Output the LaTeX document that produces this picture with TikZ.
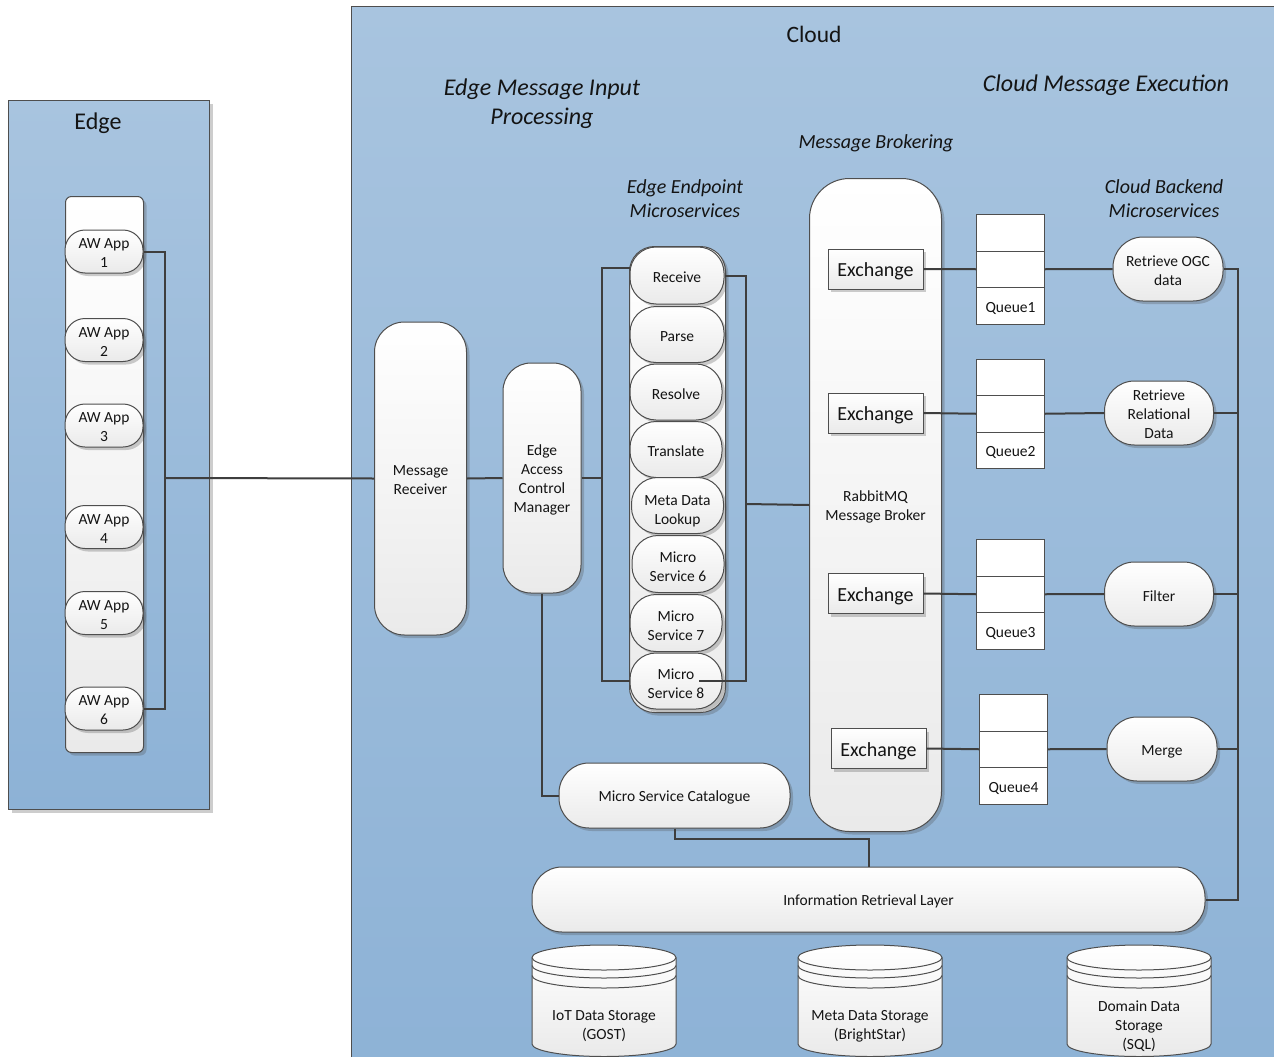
\documentclass[tikz,border=0pt]{standalone}
\usepackage{fontspec}
\setmainfont{Carlito}
\usetikzlibrary{shadows,calc}
\definecolor{panelTop}{RGB}{168,196,223}
\definecolor{panelBot}{RGB}{141,178,214}
\definecolor{nodeBot}{RGB}{234,234,234}
\definecolor{lineC}{RGB}{62,62,62}
\definecolor{borderC}{RGB}{78,78,78}
\newcommand{\fs}{\rule{0pt}{0.98em}}
\newcommand{\fsx}[1]{\rule{0pt}{#1em}}
\newcommand{\dbcyl}[4]{%
  \path[top color=white, bottom color=nodeBot, draw=borderC, line width=1pt]
    (#2,957.5) -- (#2,1044) arc[start angle=180,end angle=360,x radius=72pt,y radius=12.5pt]
    -- ++(0,-86.5) arc[start angle=0,end angle=180,x radius=72pt,y radius=12.5pt] -- cycle;
  \draw[draw=borderC, line width=1pt] (#2,957.5) arc[start angle=180,end angle=360,x radius=72pt,y radius=12.5pt];
  \draw[draw=borderC, line width=1pt] (#2,965.5) arc[start angle=180,end angle=360,x radius=72pt,y radius=12.5pt];
  \draw[draw=borderC, line width=1pt] (#2,975.5) arc[start angle=180,end angle=360,x radius=72pt,y radius=12.5pt];
  \node[align=center] (#1) at (#3,1023.5) {\fs #4};
}
\begin{document}
\begin{tikzpicture}[x=1pt,y=-1pt,
  every node/.style={font=\fontsize{15.5}{19}\selectfont, text=black!92, execute at begin node={\rule{0pt}{0.95em}}},
  panel/.style={draw=borderC, line width=1pt, top color=panelTop, bottom color=panelBot, inner sep=0pt, anchor=north west},
  shad/.style={drop shadow={shadow xshift=3pt, shadow yshift=-3pt, opacity=0.28, fill=black!70}},
  rnd/.style={draw=borderC, line width=1pt, top color=white, bottom color=nodeBot, align=center, inner sep=1pt, rounded corners=#1, shad},
  exch/.style={draw=borderC, line width=1pt, top color=white, bottom color=nodeBot, minimum width=95, minimum height=40, inner sep=0pt, font=\fontsize{20}{24}\selectfont, shad},
  qcell/.style={draw=borderC, line width=1pt, fill=white, minimum width=68, minimum height=36.5, inner sep=0pt, anchor=north west},
  conn/.style={draw=lineC, line width=2pt},
  head/.style={align=center, font=\fontsize{20}{24}\selectfont\itshape}
]
\useasboundingbox (0,0) rectangle (1274,1057);
\clip (0,0) rectangle (1274,1057);
\fill[white] (0,0) rectangle (1274,1057);

% panels
\node[panel, shad, minimum width=201, minimum height=709] (edgepanel) at (8,100) {};
\node[panel, minimum width=960, minimum height=1080] (cloudpanel) at (351,6) {};

% titles
\node[font=\fontsize{24}{29}\selectfont] (edgetitle) at (98,120.5) {Edge};
\node[font=\fontsize{23.5}{29}\selectfont] (cloudtitle) at (814,31) {Cloud};
\node[align=center, font=\fontsize{24}{29}\selectfont\itshape] (emip) at (542,100) {\fs Edge Message Input\\Processing};
\node[font=\fontsize{24}{29}\selectfont\itshape] (cme) at (1106,82.5) {Cloud Message Execution};
\node[head] (mbh) at (876,140.5) {Message Brokering};
\node[head] (eemh) at (685,199) {Edge Endpoint\\Microservices};
\node[head] (cbmh) at (1164,199) {Cloud Backend\\Microservices};

% edge apps
\node[rnd=6, minimum width=78, minimum height=556, anchor=north west] (edgebox) at (65,196) {};
\node[rnd=20, minimum width=78, minimum height=43] (app1) at (104,251.5) {\fsx{0.86}AW App\\1};
\node[rnd=20, minimum width=78, minimum height=43] (app2) at (104,340) {\fsx{0.86}AW App\\2};
\node[rnd=20, minimum width=78, minimum height=43] (app3) at (104,425.5) {\fsx{0.86}AW App\\3};
\node[rnd=20, minimum width=78, minimum height=43] (app4) at (104,527) {\fsx{0.86}AW App\\4};
\node[rnd=20, minimum width=78, minimum height=43] (app5) at (104,613) {\fsx{0.86}AW App\\5};
\node[rnd=20, minimum width=78, minimum height=43] (app6) at (104,708.5) {\fsx{0.86}AW App\\6};

% input processing
\node[rnd=30, minimum width=92, minimum height=313] (mr) at (420.5,478.5) {\fsx{0.8}Message\\Receiver};
\node[rnd=28, minimum width=78, minimum height=230] (eacm) at (542,478) {\fs Edge\\Access\\Control\\Manager};

% endpoint microservices
\node[rnd=25, minimum width=96, minimum height=466, anchor=north west] (mscont) at (629,246) {};
\node[rnd=26, minimum width=94, minimum height=57] (recv) at (677,275.5) {Receive};
\node[rnd=26, minimum width=94, minimum height=56] (parse) at (677,334.5) {Parse};
\node[rnd=26, minimum width=92, minimum height=56] (resolve) at (676,392) {Resolve};
\node[rnd=26, minimum width=92, minimum height=56] (translate) at (676,449.5) {Translate};
\node[rnd=26, minimum width=92, minimum height=56] (meta) at (677.5,505.5) {\fsx{1.43}Meta Data\\Lookup};
\node[rnd=26, minimum width=92, minimum height=57] (ms6) at (678,564) {\fs Micro\\Service 6};
\node[rnd=26, minimum width=92, minimum height=57] (ms7) at (676,623) {\fs Micro\\Service 7};
\node[rnd=26, minimum width=92, minimum height=56] (ms8) at (676,681) {\fs Micro\\Service 8};

% broker
\node[rnd=40, minimum width=132, minimum height=653, anchor=north west] (rmq) at (809,178) {\fs RabbitMQ\\Message Broker};
\node[exch] (ex1) at (875.5,269) {Exchange};
\node[exch] (ex2) at (875.5,413) {Exchange};
\node[exch] (ex3) at (875.5,593.5) {Exchange};
\node[exch] (ex4) at (878.5,748.5) {Exchange};

% queues
\node[qcell] (q1a) at (976,214) {};
\node[qcell] (q1b) at (976,250.5) {};
\node[qcell] (q1c) at (976,287) {Queue1};
\node[qcell] (q2a) at (976,358.5) {};
\node[qcell] (q2b) at (976,395) {};
\node[qcell] (q2c) at (976,431.5) {Queue2};
\node[qcell] (q3a) at (976,539) {};
\node[qcell] (q3b) at (976,575.5) {};
\node[qcell] (q3c) at (976,612) {Queue3};
\node[qcell] (q4a) at (979,694) {};
\node[qcell] (q4b) at (979,730.5) {};
\node[qcell] (q4c) at (979,767) {Queue4};

% backend services
\node[rnd=30, minimum width=110, minimum height=64] (svc1) at (1168,269) {\fsx{0.88}Retrieve OGC\\data};
\node[rnd=30, minimum width=109, minimum height=64] (svc2) at (1159,413) {\fsx{0.88}Retrieve\\Relational\\Data};
\node[rnd=30, minimum width=109, minimum height=64] (svc3) at (1159,594) {Filter};
\node[rnd=30, minimum width=110, minimum height=64] (svc4) at (1162,749) {Merge};

% catalogue and retrieval layer
\node[rnd=30, minimum width=231, minimum height=65] (msc) at (674.5,795.5) {Micro Service Catalogue};
\node[rnd=30, minimum width=673, minimum height=65] (irl) at (868.5,899.5) {Information Retrieval Layer};

% storage
\dbcyl{iot}{532}{604}{IoT Data Storage\\(GOST)}
\dbcyl{metads}{798}{870}{Meta Data Storage\\(BrightStar)}
\dbcyl{domain}{1067}{1139}{Domain Data\\Storage\\(SQL)}

% connectors
\coordinate (ebus) at (165,478);
\draw[conn] (app1.east) -| (ebus) |- (app6.east);
\draw[conn] (ebus) -- (mr.west);
\draw[conn] (mr.east) -- (eacm.west);
\coordinate (lbus) at (602,478);
\draw[conn] (eacm.east) -- (lbus);
\draw[conn] ($(recv.west)+(0,-8)$) -| (lbus) |- (ms8.west);
\coordinate (rbus) at (746,504);
\draw[conn] (recv.east) -| (rbus) |- ($(ms8.east)+(-24,0)$);
\draw[conn] (rbus) -- (rmq.west);

\draw[conn] (ex1.east) -- (q1b.west);
\draw[conn] (ex2.east) -- (q2b.west);
\draw[conn] (ex3.east) -- (q3b.west);
\draw[conn] (ex4.east) -- (q4b.west);
\draw[conn] (q1b.east) -- (svc1.west);
\draw[conn] (q2b.east) -- (svc2.west);
\draw[conn] (q3b.east) -- (svc3.west);
\draw[conn] (q4b.east) -- (svc4.west);

\coordinate (sbus) at (1238,899.5);
\draw[conn] (svc1.east) -| (sbus) -- (irl.east);
\draw[conn] (svc2.east) -- (svc2.east -| sbus);
\draw[conn] (svc3.east) -- (svc3.east -| sbus);
\draw[conn] (svc4.east) -- (svc4.east -| sbus);

\draw[conn] (eacm.south) |- (msc.west);
\coordinate (mj) at (868.5,839);
\draw[conn] (msc.south) |- (mj) -- (irl.north);
\end{tikzpicture}
\end{document}
